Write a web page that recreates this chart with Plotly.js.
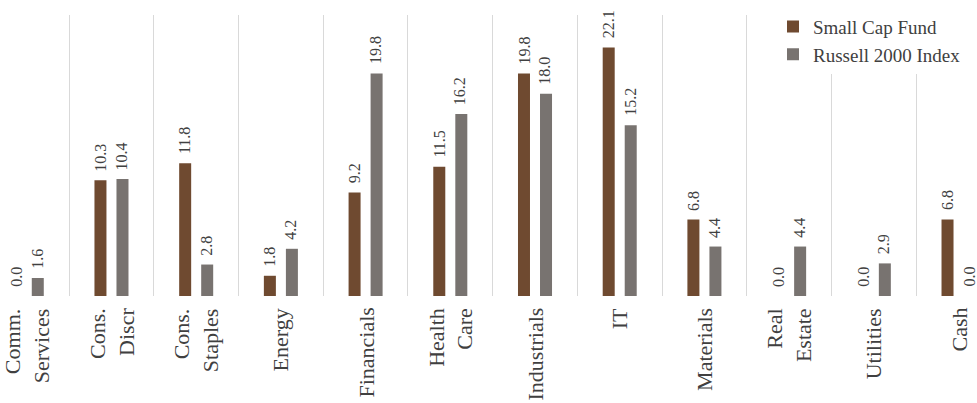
<!DOCTYPE html>
<html>
<head>
<meta charset="utf-8">
<script src="https://cdn.plot.ly/plotly-3.0.1.min.js"></script>
<style>html,body{margin:0;padding:0;background:#fff;}#chart{width:977px;height:403px;}</style>
</head>
<body>
<div id="chart"></div>
<script>
const categories = ["Comm.<br>Services", "Cons.<br>Discr", "Cons.<br>Staples", "Energy", "Financials", "Health<br>Care", "Industrials", "IT", "Materials", "Real<br>Estate", "Utilities", "Cash"];
const fundValues = [0.0, 10.3, 11.8, 1.8, 9.2, 11.5, 19.8, 22.1, 6.8, 0.0, 0.0, 6.8];
const indexValues = [1.6, 10.4, 2.8, 4.2, 19.8, 16.2, 18.0, 15.2, 4.4, 4.4, 2.9, 0.0];
const seriesNames = ["Small Cap Fund", "Russell 2000 Index"];

const FONT = "'Liberation Serif', 'Times New Roman', serif";
const TXT = "#404040";
const colors = ["#6F4A30", "#787370"];

function barTrace(name, vals, color) {
  return {
    type: "bar",
    name: name,
    x: categories,
    y: vals,
    marker: {color: color},
    hoverinfo: "skip"
  };
}

const data = [
  barTrace(seriesNames[0], fundValues, colors[0]),
  barTrace(seriesNames[1], indexValues, colors[1])
];

const annotations = [];
// value labels, placed through the axes (category, value)
[fundValues, indexValues].forEach((vals, s) => {
  vals.forEach((v, i) => {
    annotations.push({
      xref: "x", yref: "y",
      x: categories[i], y: v,
      xshift: s === 0 ? -11 : 10,
      yshift: 8,
      xanchor: "center", yanchor: "bottom",
      borderpad: 0,
      text: v.toFixed(1),
      textangle: -90,
      showarrow: false,
      font: {family: FONT, size: 16, color: TXT}
    });
  });
});
// category labels, one per category on the x axis, lines aligned toward the axis
categories.forEach((c) => {
  annotations.push({
    xref: "x", yref: "paper",
    x: c, y: 0,
    yshift: -10,
    xanchor: "center", yanchor: "top",
    align: "right",
    text: c,
    textangle: -90,
    showarrow: false,
    font: {family: FONT, size: 22, color: TXT}
  });
});

const layout = {
  width: 977,
  height: 403,
  margin: {l: 0, r: 0, t: 15, b: 107, pad: 0},
  paper_bgcolor: "#fff",
  plot_bgcolor: "#fff",
  font: {family: FONT, color: TXT},
  barmode: "group",
  bargap: 0.48,
  bargroupgap: 0.455,
  showlegend: true,
  legend: {
    x: 773 / 977, xanchor: "left",
    y: 1.026, yanchor: "top",
    bgcolor: "#fff",
    font: {family: FONT, size: 19, color: TXT},
    tracegroupgap: 0
  },
  annotations: annotations,
  xaxis: {
    type: "category",
    range: [-0.316, 11.218],
    tickson: "boundaries",
    showgrid: true,
    gridcolor: "#D9D9D9",
    gridwidth: 1,
    ticks: "",
    showline: false,
    zeroline: false,
    showticklabels: false
  },
  yaxis: {
    range: [0, 25],
    showgrid: false,
    zeroline: false,
    showticklabels: false,
    showline: false,
    ticks: ""
  }
};

Plotly.newPlot("chart", data, layout, {displayModeBar: false, staticPlot: true});
</script>
</body>
</html>
